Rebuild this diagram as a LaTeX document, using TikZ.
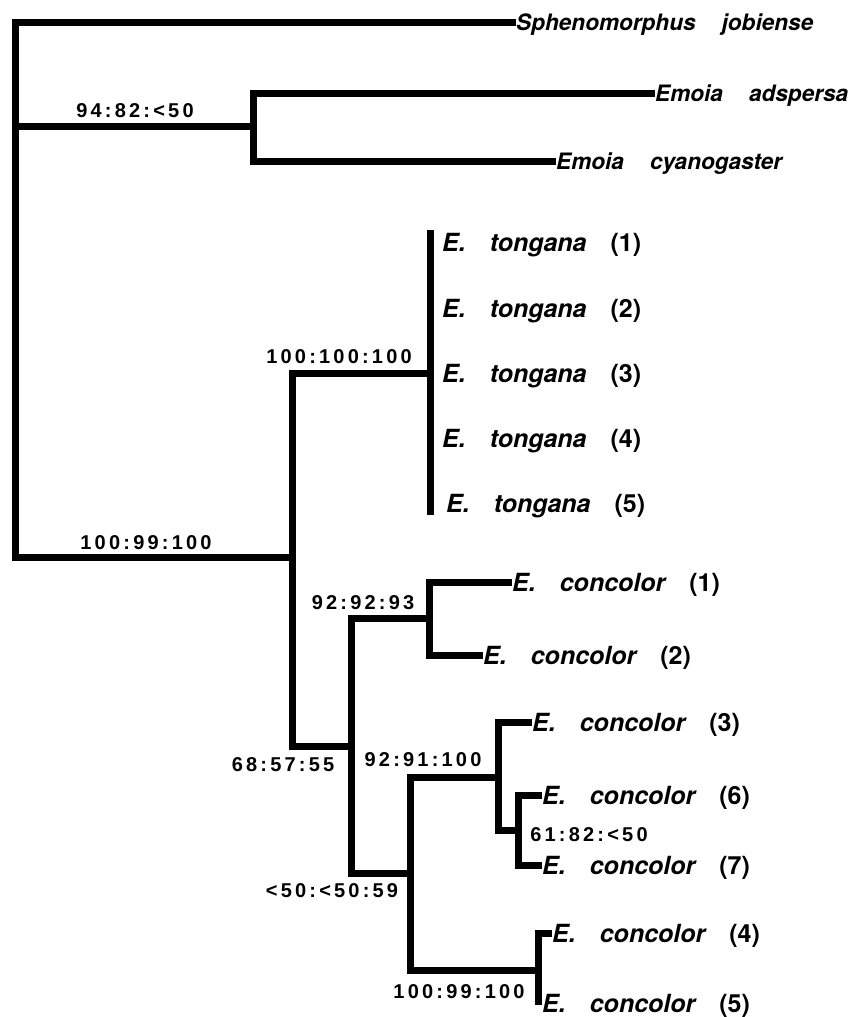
\documentclass[tikz,border=0pt]{standalone}
\usepackage{fontspec}
\setmainfont{TeX Gyre Heros}
\newfontfamily\lblfont[LetterSpace=16]{Liberation Sans}
\newcommand{\wg}{\hspace*{24pt}}
\newcommand{\tg}[1]{E.\wg tongana\wg{\upshape (#1)}}
\newcommand{\cc}[1]{E.\wg concolor\wg{\upshape (#1)}}
\tikzset{
  edge/.style={line width=7pt, line join=miter, line cap=butt},
  taxtop/.style={anchor=west, inner sep=0pt, font=\fontsize{22.6}{22}\selectfont\bfseries\itshape, text height=16.2pt, text depth=0pt},
  taxlow/.style={anchor=west, inner sep=0pt, font=\fontsize{25}{25}\selectfont\bfseries\itshape, text height=18pt, text depth=0pt},
  lbl/.style={inner sep=0pt, font=\lblfont\fontsize{20}{20}\selectfont\bfseries}
}
\begin{document}
\begin{tikzpicture}[x=1pt,y=-1pt]
\fill[white] (0,0) rectangle (847,1017);
\useasboundingbox (0,0) rectangle (847,1017);
% taxa
\node[taxtop] (sph)  at (516,22)  {Sphenomorphus\hspace*{26pt}jobiense};
\node[taxtop] (adsp) at (655,93)  {Emoia\hspace*{26pt}adspersa};
\node[taxtop] (cyan) at (556,161) {Emoia\hspace*{26pt}cyanogaster};
\node[taxlow] (t1) at (442,242) {\tg{1}};
\node[taxlow] (t2) at (442,308) {\tg{2}};
\node[taxlow] (t3) at (442,373) {\tg{3}};
\node[taxlow] (t4) at (442,438) {\tg{4}};
\node[taxlow] (t5) at (446,503) {\tg{5}};
\node[taxlow] (c1) at (512,582) {\cc{1}};
\node[taxlow] (c2) at (483,655) {\cc{2}};
\node[taxlow] (c3) at (532,722) {\cc{3}};
\node[taxlow] (c6) at (542,795) {\cc{6}};
\node[taxlow] (c7) at (542,865) {\cc{7}};
\node[taxlow] (c4) at (552,933) {\cc{4}};
\node[taxlow] (c5) at (542,1003) {\cc{5}};
% internal nodes
\coordinate (rootE) at (15,126);
\coordinate (rootB) at (15,557);
\coordinate (nE)  at (253,126);
\coordinate (ing) at (292,557);
\coordinate (tg)  at (430,373);
\coordinate (tgT) at (430,230);
\coordinate (tgB) at (430,515);
\coordinate (n68) at (351,746);
\coordinate (n93) at (429,618);
\coordinate (n59) at (410,873);
\coordinate (n91) at (498,777);
\coordinate (n61) at (518,830);
\coordinate (n99) at (538,970);
% branches
\draw[edge] (sph.west) -| (rootB) -- (ing);
\draw[edge] (rootE) -- (nE);
\draw[edge] (adsp.west) -| (nE) |- (cyan.west);
\draw[edge] (tg) -| (ing) |- (n68);
\draw[edge] (tgT) -- (tgB);
\draw[edge] (n93) -| (n68) |- (n59);
\draw[edge] (c1.west) -| (n93) |- (c2.west);
\draw[edge] (n91) -| (n59) |- (n99);
\draw[edge] (c3.west) -| (n91) |- (n61);
\draw[edge] (c6.west) -| (n61) |- (c7.west);
\draw[edge] (c4.west) -| (n99) |- ([yshift=2pt]c5.west);
% support labels
\node[lbl] (l94)  at (135,111) {94:82:<50};
\node[lbl] (l100) at (146,543) {100:99:100};
\node[lbl] (l100t) at (339,357) {100:100:100};
\node[lbl] (l93)  at (363,603) {92:92:93};
\node[lbl] (l68)  at (283,765) {68:57:55};
\node[lbl] (l91)  at (423,760) {92:91:100};
\node[lbl] (l59)  at (332,891) {<50:<50:59};
\node[lbl] (l61)  at (589,835) {61:82:<50};
\node[lbl] (l99)  at (459,992) {100:99:100};
\end{tikzpicture}
\end{document}
